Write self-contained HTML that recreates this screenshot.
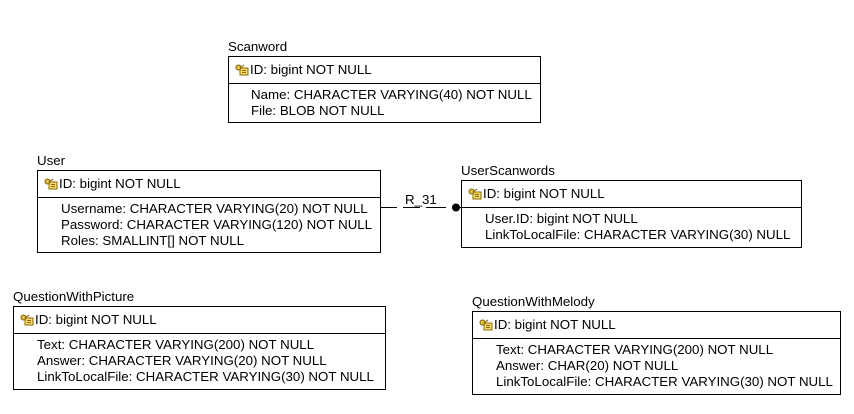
<!DOCTYPE html>
<html><head><style>
body{margin:0;width:854px;height:414px;background:#fff;position:relative;font-family:"Liberation Sans",Arial,sans-serif;font-size:13.3px;color:#000;overflow:hidden}
.t{position:absolute;white-space:nowrap;line-height:16px}
.b{position:absolute;border:1px solid #000;box-sizing:border-box}
.d{position:absolute;left:0;right:0;border-top:1px solid #000}
.k{display:inline-block;width:14px;height:12px;vertical-align:-2px;margin-right:1px;position:relative}
</style></head><body>
<svg width="0" height="0" style="position:absolute"><defs><symbol id="key" viewBox="0 0 14 12"><rect x="5" y="4" width="8" height="7" fill="#f5d76e" stroke="#8a6d00" stroke-width="1"/><line x1="7" y1="6.5" x2="11" y2="6.5" stroke="#8a6d00"/><line x1="7" y1="8.5" x2="11" y2="8.5" stroke="#8a6d00"/><circle cx="3.5" cy="3.5" r="2.5" fill="#e8c040" stroke="#7a5d00"/><line x1="5" y1="4" x2="9" y2="1" stroke="#7a5d00"/></symbol></defs></svg>

<div class="t" style="left:228px;top:39px">Scanword</div>
<div class="b" style="left:228px;top:56px;width:313px;height:67px"><div class="d" style="top:26px"></div></div>
<div class="t" style="left:235px;top:62px"><svg class="k"><use href="#key"/></svg>ID: bigint NOT NULL</div>
<div class="t" style="left:251px;top:87px">Name: CHARACTER VARYING(40) NOT NULL<br>File: BLOB NOT NULL</div>

<div class="t" style="left:37px;top:153px">User</div>
<div class="b" style="left:37px;top:170px;width:344px;height:83px"><div class="d" style="top:26px"></div></div>
<div class="t" style="left:44px;top:176px"><svg class="k"><use href="#key"/></svg>ID: bigint NOT NULL</div>
<div class="t" style="left:61px;top:201px">Username: CHARACTER VARYING(20) NOT NULL<br>Password: CHARACTER VARYING(120) NOT NULL<br>Roles: SMALLINT[] NOT NULL</div>

<div class="t" style="left:461px;top:163px">UserScanwords</div>
<div class="b" style="left:461px;top:180px;width:341px;height:68px"><div class="d" style="top:26px"></div></div>
<div class="t" style="left:468px;top:186px"><svg class="k"><use href="#key"/></svg>ID: bigint NOT NULL</div>
<div class="t" style="left:485px;top:211px">User.ID: bigint NOT NULL<br>LinkToLocalFile: CHARACTER VARYING(30) NULL</div>

<svg style="position:absolute;left:0;top:0" width="854" height="414">
<g stroke="#000" stroke-width="1"><line x1="381" y1="207.5" x2="397" y2="207.5"/><line x1="403" y1="207.5" x2="420" y2="207.5"/><line x1="426" y1="207.5" x2="446" y2="207.5"/></g>
<circle cx="456" cy="207.5" r="4" fill="#000"/>
<line x1="456" y1="207.5" x2="461" y2="207.5" stroke="#000"/>
</svg>
<div class="t" style="left:405px;top:192px">R_31</div>

<div class="t" style="left:13px;top:289px">QuestionWithPicture</div>
<div class="b" style="left:13px;top:306px;width:373px;height:84px"><div class="d" style="top:26px"></div></div>
<div class="t" style="left:20px;top:312px"><svg class="k"><use href="#key"/></svg>ID: bigint NOT NULL</div>
<div class="t" style="left:37px;top:337px">Text: CHARACTER VARYING(200) NOT NULL<br>Answer: CHARACTER VARYING(20) NOT NULL<br>LinkToLocalFile: CHARACTER VARYING(30) NOT NULL</div>

<div class="t" style="left:472px;top:294px">QuestionWithMelody</div>
<div class="b" style="left:472px;top:311px;width:369px;height:84px"><div class="d" style="top:26px"></div></div>
<div class="t" style="left:479px;top:317px"><svg class="k"><use href="#key"/></svg>ID: bigint NOT NULL</div>
<div class="t" style="left:496px;top:342px">Text: CHARACTER VARYING(200) NOT NULL<br>Answer: CHAR(20) NOT NULL<br>LinkToLocalFile: CHARACTER VARYING(30) NOT NULL</div>
</body></html>
